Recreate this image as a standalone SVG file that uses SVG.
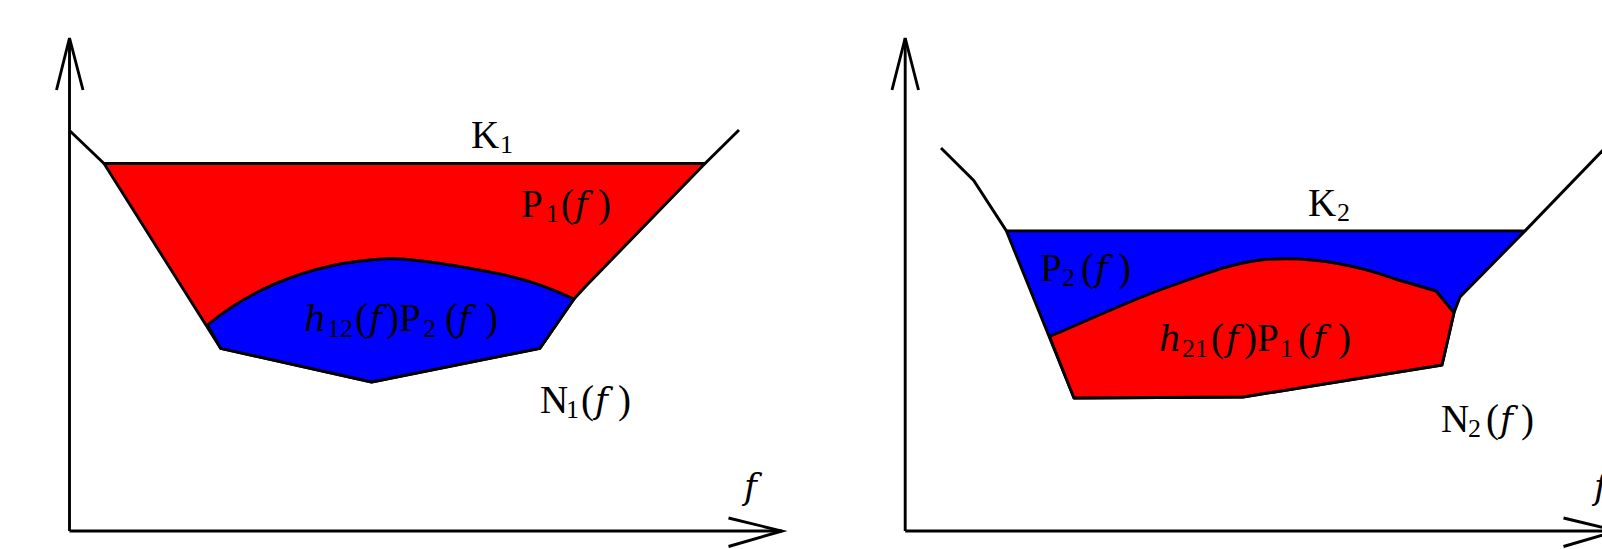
<svg xmlns="http://www.w3.org/2000/svg" width="1602" height="549" viewBox="0 0 1602 549">
<style>
.ln{fill:none;stroke:#000;stroke-width:2.9;stroke-linejoin:miter;stroke-linecap:butt}
.red{fill:#ff0000;stroke:#000;stroke-width:2.9;stroke-linejoin:round}
.blue{fill:#0000ff;stroke:#000;stroke-width:2.9;stroke-linejoin:round}
text{font-family:"Liberation Serif","DejaVu Serif",serif;font-size:39px;fill:#000}
.it{font-family:"DejaVu Serif","Liberation Serif",serif;font-style:italic;font-size:35px}
.sub{font-size:26px}
</style>
<rect width="1602" height="549" fill="#fff"/>
<g id="panel-left">
  <g id="axes-left">
    <line class="ln" x1="69.5" y1="531" x2="69.5" y2="38"/>
    <polyline class="ln" points="56.5,90 69.5,38 83,90"/>
    <line class="ln" x1="69.5" y1="531" x2="782" y2="531"/>
    <polyline class="ln" points="728.5,518 782,531 728.5,546.5"/>
    <text class="it" x="744" y="499">f</text>
  </g>
  <g id="region-P1">
    <path class="red" d="M104,163.5 L705,163.5 L586,286 L574,299 L540,348.3 L371.6,382 L220.6,348.3 Z"/>
  </g>
  <g id="region-h12P2">
    <path class="blue" d="M207.5,325 C240,298 300,262 390,258.5 C420,259 470,268 500,274 C530,280 555,290 574,299 L540,348.3 L371.6,382 L220.6,348.3 Z"/>
  </g>
  <g id="curve-N1">
    <polyline class="ln" points="70,131 104,163.5"/>
    <polyline class="ln" points="705,163.5 739,130"/>
  </g>
  <g id="labels-left">
    <text x="471" y="148">K<tspan class="sub" x="500" y="153">1</tspan></text>
    <text x="521" y="217">P<tspan class="sub" x="546" y="222">1</tspan><tspan x="561" y="217">(</tspan><tspan class="it" x="575" y="217">f</tspan><tspan x="598" y="217">)</tspan></text>
    <text x="304" y="331"><tspan class="it">h</tspan><tspan class="sub" x="327" y="337">12</tspan><tspan x="355" y="331">(</tspan><tspan class="it" x="369" y="331">f</tspan><tspan x="386" y="331">)</tspan><tspan x="399" y="331">P</tspan><tspan class="sub" x="423" y="337">2</tspan><tspan x="445" y="331">(</tspan><tspan class="it" x="458" y="331">f</tspan><tspan x="485" y="331">)</tspan></text>
    <text x="540" y="413">N<tspan class="sub" x="566" y="418">1</tspan><tspan x="581" y="413">(</tspan><tspan class="it" x="595" y="413">f</tspan><tspan x="618" y="413">)</tspan></text>
  </g>
</g>
<g id="panel-right">
  <g id="axes-right">
    <line class="ln" x1="905.2" y1="531" x2="905.2" y2="38"/>
    <polyline class="ln" points="892,90 905.2,38 918.5,90"/>
    <line class="ln" x1="905.2" y1="531" x2="1617" y2="531"/>
    <polyline class="ln" points="1563.5,518 1617,531 1563.5,546.5"/>
    <text class="it" x="1594" y="499">f</text>
  </g>
  <g id="region-P2">
    <path class="blue" d="M1006.4,230.9 L1525,230.9 L1460,297 L1454,312.7 L1442,365 L1243,397 L1074,398 Z"/>
  </g>
  <g id="region-h21P1">
    <path class="red" d="M1049.6,336.5 C1080,324 1120,305 1160,290 C1200,276 1230,263 1265,259.5 C1300,257 1345,261 1395,279 L1436,291 L1454,312.7 L1442,365 L1243,397 L1074,398 Z"/>
  </g>
  <g id="curve-N2">
    <polyline class="ln" points="941,148 973.7,180.5 1006.4,230.9"/>
    <polyline class="ln" points="1525,230.9 1606,147"/>
  </g>
  <g id="labels-right">
    <text x="1308" y="216">K<tspan class="sub" x="1337" y="221">2</tspan></text>
    <text x="1040" y="281">P<tspan class="sub" x="1062" y="286">2</tspan><tspan x="1081" y="281">(</tspan><tspan class="it" x="1095" y="281">f</tspan><tspan x="1118" y="281">)</tspan></text>
    <text x="1159" y="351"><tspan class="it">h</tspan><tspan class="sub" x="1182" y="357">21</tspan><tspan x="1211" y="351">(</tspan><tspan class="it" x="1226" y="351">f</tspan><tspan x="1244" y="351">)</tspan><tspan x="1257" y="351">P</tspan><tspan class="sub" x="1280" y="357">1</tspan><tspan x="1298" y="351">(</tspan><tspan class="it" x="1313" y="351">f</tspan><tspan x="1338" y="351">)</tspan></text>
    <text x="1441" y="432">N<tspan class="sub" x="1468" y="437">2</tspan><tspan x="1486" y="432">(</tspan><tspan class="it" x="1500" y="432">f</tspan><tspan x="1521" y="432">)</tspan></text>
  </g>
</g>
</svg>
